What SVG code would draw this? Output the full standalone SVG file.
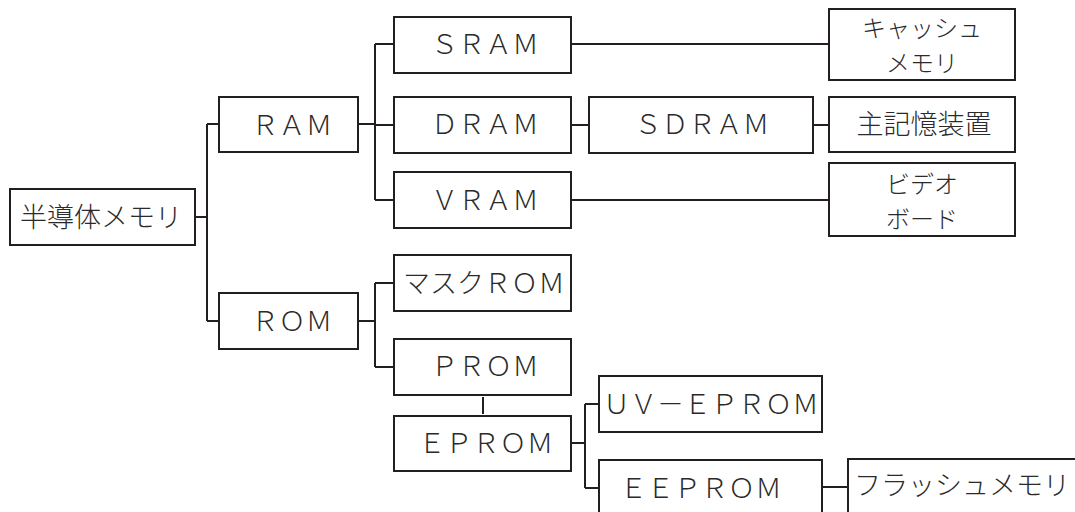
<svg xmlns="http://www.w3.org/2000/svg" width="1075" height="512" viewBox="0 0 1075 512">
<style>
.box{fill:#fff;stroke:#231f20;stroke-width:2}
.ln{fill:none;stroke:#231f20;stroke-width:2}
text{font-family:"Noto Sans CJK JP","Noto Sans",sans-serif;font-size:27px;font-weight:300;fill:#2a2a2a;text-anchor:middle}
text.two{font-size:24px}
</style>
<rect width="1075" height="512" fill="#fff"/>
<g id="connectors" class="ln">
<path d="M195 217H207M207 124V321M207 124H219M207 321H219"/>
<path d="M358 124H375M375 44V200M375 44H394M375 125H394M375 200H394"/>
<path d="M571 44H829M571 125H589M813 125H829M571 200H829"/>
<path d="M358 321H375M375 283V367M375 283H394M375 367H394"/>
<path d="M483 397V414"/>
<path d="M571 443H585M585 404V488M585 404H599M585 488H599"/>
<path d="M822 487H848"/>
</g>
<g id="n-semi"><rect class="box" x="10" y="189" width="185" height="56"/><text x="101" y="227">半導体メモリ</text></g>
<g id="n-ram"><rect class="box" x="219" y="97" width="139" height="55"/><text x="292" y="135">ＲＡＭ</text></g>
<g id="n-rom"><rect class="box" x="219" y="293" width="139" height="56"/><text x="292" y="331">ＲＯＭ</text></g>
<g id="n-sram"><rect class="box" x="394" y="17" width="177" height="56"/><text x="485" y="54">ＳＲＡＭ</text></g>
<g id="n-dram"><rect class="box" x="394" y="97" width="177" height="56"/><text x="485" y="134">ＤＲＡＭ</text></g>
<g id="n-vram"><rect class="box" x="394" y="172" width="177" height="56"/><text x="485" y="210">ＶＲＡＭ</text></g>
<g id="n-sdram"><rect class="box" x="589" y="97" width="224" height="56"/><text x="702" y="134">ＳＤＲＡＭ</text></g>
<g id="n-cache"><rect class="box" x="829" y="9" width="186" height="71"/><text class="two" x="922" y="37">キャッシュ<tspan x="922" y="72">メモリ</tspan></text></g>
<g id="n-main"><rect class="box" x="829" y="97" width="186" height="55"/><text x="924" y="134">主記憶装置</text></g>
<g id="n-video"><rect class="box" x="829" y="163" width="186" height="73"/><text class="two" x="922" y="193">ビデオ<tspan x="922" y="228">ボード</tspan></text></g>
<g id="n-mask"><rect class="box" x="394" y="255" width="177" height="56"/><text x="484" y="293">マスクＲＯＭ</text></g>
<g id="n-prom"><rect class="box" x="394" y="339" width="177" height="56"/><text x="485" y="376">ＰＲＯＭ</text></g>
<g id="n-eprom"><rect class="box" x="394" y="416" width="177" height="55"/><text x="486" y="453">ＥＰＲＯＭ</text></g>
<g id="n-uveprom"><rect class="box" x="599" y="376" width="223" height="56"/><text x="711" y="414">ＵＶ－ＥＰＲＯＭ</text></g>
<g id="n-eeprom"><rect class="box" x="599" y="460" width="223" height="60"/><text x="701" y="498">ＥＥＰＲＯＭ</text></g>
<g id="n-flash"><rect class="box" x="848" y="459" width="240" height="60"/><text x="962" y="495">フラッシュメモリ</text></g>
</svg>
